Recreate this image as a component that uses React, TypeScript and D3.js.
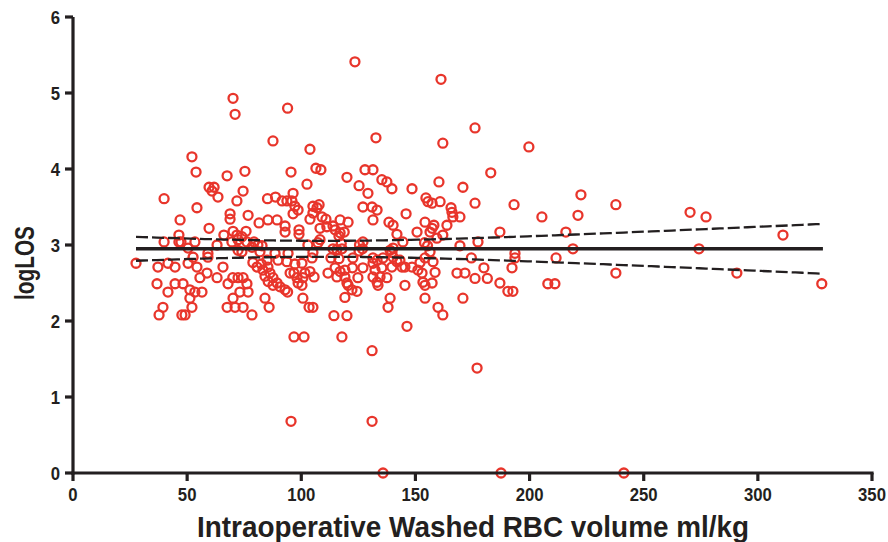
import React from "react";
import * as d3 from "d3";

// Intraoperative washed RBC volume (ml/kg) vs logLOS, one pair per patient
const patients: [number, number][] = [
  [27.6, 2.76], [37.2, 2.71], [39.9, 3.61], [39.9, 3.04], [36.8, 2.49], [39.4, 2.18], [37.7, 2.08],
  [41.6, 2.76], [41.6, 2.38], [44.7, 2.71], [44.7, 2.49], [46.9, 3.33], [46.4, 3.13], [46.4, 3.04],
  [47.3, 3.04], [48.2, 2.49], [47.7, 2.08], [49.1, 2.08], [50.4, 2.96], [50.4, 2.76], [52.6, 2.84],
  [51.2, 2.41], [51.2, 2.30], [52.1, 2.18], [53.4, 2.38], [53.4, 3.04], [54.3, 2.71], [54.3, 3.49],
  [55.6, 2.57], [56.5, 2.38], [52.1, 4.16], [53.9, 3.96],
  [59.6, 3.76], [61.8, 3.76], [60.9, 3.71], [63.5, 3.63], [59.6, 3.22], [59.1, 2.89], [59.1, 2.84],
  [58.7, 2.63], [63.1, 3.0], [63.1, 2.57], [65.7, 2.71], [66.1, 3.13], [67.5, 3.91], [67.9, 2.49],
  [67.5, 2.18], [68.8, 3.41], [68.8, 3.34], [69.6, 3.04], [70.1, 3.18], [70.1, 2.30], [70.1, 4.93],
  [71.0, 4.72], [71.8, 3.58], [71.8, 3.13], [70.0, 2.57], [72.3, 2.57], [74.5, 2.57], [71.0, 2.18],
  [72.3, 3.07], [72.3, 2.93], [73.1, 2.38], [74.0, 3.11], [74.0, 2.91], [74.5, 3.71], [74.5, 2.18],
  [75.3, 3.97], [75.8, 3.18],
  [76.2, 3.04], [78.4, 2.97], [79.3, 3.04], [81.0, 3.0], [82.8, 2.99], [81.9, 2.91], [76.7, 3.39],
  [81.5, 3.29], [85.4, 3.33], [89.4, 3.33], [92.9, 3.25], [92.9, 3.17], [85.2, 3.61], [88.7, 3.63],
  [91.6, 3.58], [93.7, 3.58], [95.9, 3.58], [96.4, 3.68], [97.2, 3.51], [96.4, 3.41], [98.6, 3.46],
  [87.6, 4.37], [94.0, 4.80], [95.5, 3.96], [99.0, 3.20], [99.0, 3.14], [78.8, 2.77], [80.6, 2.71],
  [82.5, 2.75], [83.2, 2.67], [85.0, 2.80], [85.4, 2.71], [86.3, 2.63], [84.1, 2.59], [87.6, 2.57],
  [85.5, 2.52], [87.6, 2.47], [89.4, 2.50], [90.7, 2.45], [92.9, 2.41], [94.0, 2.38], [88.5, 2.89],
  [94.2, 2.89], [89.8, 2.80], [93.7, 2.78], [97.2, 2.75], [100.3, 2.76], [95.1, 2.63], [96.8, 2.63],
  [98.1, 2.57], [98.6, 2.50], [100.3, 2.47], [100.7, 2.30], [84.1, 2.30], [85.9, 2.18], [76.2, 2.49],
  [76.7, 2.38], [78.4, 2.08], [96.8, 1.79], [95.5, 0.68],
  [101.2, 1.79], [117.8, 1.79], [102.5, 3.80], [103.8, 4.26], [106.4, 4.01], [108.6, 3.99],
  [105.1, 3.51], [106.9, 3.49], [107.8, 3.53], [105.1, 3.42], [103.8, 3.34], [109.1, 3.37],
  [110.8, 3.34], [108.2, 3.22], [111.2, 3.24], [113.9, 3.25], [114.8, 3.20], [117.0, 3.16],
  [118.8, 3.17], [116.5, 3.12], [117.0, 3.33], [120.5, 3.30], [120.0, 3.89], [102.9, 3.0],
  [107.3, 3.03], [108.2, 3.07], [105.1, 2.90], [104.7, 2.83], [101.6, 2.63], [103.8, 2.65],
  [105.6, 2.58], [100.7, 2.57], [103.4, 2.18], [105.1, 2.18], [113.9, 2.95], [115.6, 2.94],
  [117.8, 2.95], [117.5, 3.02], [113.0, 2.83], [116.5, 2.82], [114.8, 2.70], [117.0, 2.65],
  [119.1, 2.67], [111.7, 2.63], [122.4, 2.70], [119.1, 2.58], [115.6, 2.58], [120.0, 2.50],
  [120.5, 2.47], [122.2, 2.41], [124.4, 2.39], [119.1, 2.31], [114.3, 2.07], [120.0, 2.07],
  [122.6, 2.83],
  [123.5, 5.41], [125.3, 3.78], [127.9, 3.99], [131.4, 3.99], [129.2, 3.68], [132.7, 4.41],
  [135.3, 3.86], [137.5, 3.83], [139.7, 3.74], [127.0, 3.50], [131.0, 3.50], [133.2, 3.46],
  [131.4, 3.33], [138.4, 3.30], [140.2, 3.26], [141.9, 3.14], [144.5, 3.04], [145.9, 3.41],
  [127.0, 3.04], [125.5, 3.0], [125.3, 2.92], [126.8, 2.95], [124.8, 2.57], [127.0, 2.70],
  [131.4, 2.83], [131.4, 2.76], [133.2, 2.80], [135.8, 2.83], [135.3, 2.70], [132.3, 2.67],
  [131.4, 2.58], [133.2, 2.51], [133.6, 2.47], [137.5, 2.57], [134.5, 2.58], [139.7, 2.71],
  [138.9, 2.93], [139.7, 2.90], [140.2, 2.96], [140.2, 2.84], [141.9, 2.78], [143.2, 2.80],
  [144.1, 2.71], [138.9, 2.30], [138.0, 2.18], [131.0, 1.61], [131.0, 0.68], [135.8, 0.0],
  [145.4, 2.71], [148.5, 2.71], [145.4, 2.47], [146.3, 1.93], [148.5, 3.74], [150.7, 3.17],
  [154.2, 3.30], [156.4, 3.17], [157.3, 3.22], [158.1, 3.26], [159.4, 3.09], [162.0, 3.13],
  [163.8, 3.26], [166.0, 3.43], [166.4, 3.37], [169.5, 3.37], [165.6, 3.49], [154.6, 3.62],
  [155.5, 3.57], [157.3, 3.55], [160.8, 3.57], [160.3, 3.83], [170.8, 3.76], [161.2, 5.18],
  [162.0, 4.34], [176.1, 4.54], [152.0, 2.77], [154.2, 2.83], [151.1, 2.67], [152.9, 2.63],
  [153.3, 2.51], [154.2, 2.47], [157.3, 2.50], [158.6, 2.64], [157.7, 2.78], [156.4, 2.91],
  [154.0, 3.03], [155.3, 2.99], [154.2, 2.30], [159.9, 2.18], [162.0, 2.08], [169.5, 2.99],
  [168.2, 2.63], [171.7, 2.63], [170.8, 2.30], [177.4, 3.04], [174.5, 2.83], [180.0, 2.70],
  [176.1, 2.56], [181.5, 2.56], [187.0, 2.50], [190.5, 2.39], [192.7, 2.39], [193.6, 2.89],
  [193.6, 2.83], [192.3, 2.70], [187.0, 3.17], [183.0, 3.95], [176.1, 3.55], [193.2, 3.53],
  [199.7, 4.29], [177.0, 1.38], [187.5, 0.0],
  [205.4, 3.37], [222.5, 3.66], [221.2, 3.39], [237.8, 3.53], [270.3, 3.43], [277.3, 3.37],
  [215.9, 3.17], [311.0, 3.13], [219.0, 2.95], [274.2, 2.95], [211.6, 2.83], [237.8, 2.63],
  [290.8, 2.63], [208.0, 2.49], [211.1, 2.49], [328.0, 2.49], [241.3, 0.0],
];

const xTicks = [0, 50, 100, 150, 200, 250, 300, 350];
const yTicks = [0, 1, 2, 3, 4, 5, 6];
const xTitle = "Intraoperative Washed RBC volume ml/kg";
const yTitle = "logLOS";

// linear fit and its 95% confidence band parameters
const fitIntercept = 2.95;
const fitSlope = 0;
const fitXRange = [27.6, 328.5];
const ciCenterX = 110;
const ciHalfAtCenter = 0.105;
const ciSpread = 0.00142;

export default function App() {
  const x = d3.scaleLinear().domain([0, 350]).range([73, 872]);
  const y = d3.scaleLinear().domain([0, 6]).range([473, 17]);
  const red = "#e8352b";
  const ink = "#231f20";

  const xs = d3.range(fitXRange[0], fitXRange[1] + 0.001, (fitXRange[1] - fitXRange[0]) / 100);
  const fit = (v: number) => fitIntercept + fitSlope * v;
  const half = (v: number) => Math.sqrt(ciHalfAtCenter ** 2 + (ciSpread * (v - ciCenterX)) ** 2);
  const line = d3.line<number[]>().x((d) => x(d[0])).y((d) => y(d[1]));
  const fitPath = line([[fitXRange[0], fit(fitXRange[0])], [fitXRange[1], fit(fitXRange[1])]]) || "";
  const upper = line(xs.map((v) => [v, fit(v) + half(v)])) || "";
  const lower = line(xs.map((v) => [v, fit(v) - half(v)])) || "";

  const font = "'Liberation Sans', Arial, sans-serif";

  return (
    <svg width={888} height={542} style={{ position: "absolute", left: 0, top: 0, background: "#fff" }}>
      {/* points */}
      <g fill="none" stroke={red} strokeWidth={2.3}>
        {patients.map((d, i) => (
          <circle key={i} cx={x(d[0])} cy={y(d[1])} r={4.5} />
        ))}
      </g>
      {/* regression */}
      <path d={fitPath} stroke={ink} strokeWidth={3.4} fill="none" />
      <path d={upper} stroke={ink} strokeWidth={2.3} fill="none" strokeDasharray="12,4" />
      <path d={lower} stroke={ink} strokeWidth={2.3} fill="none" strokeDasharray="12,4" />
      {/* axes */}
      <g stroke={ink} strokeWidth={3.2} strokeLinecap="butt">
        <line x1={x(0)} x2={x(0)} y1={y(6)} y2={y(0) + 1.6} />
        <line x1={x(0) - 1.6} x2={x(350) + 1.6} y1={y(0)} y2={y(0)} />
        {yTicks.map((t) => (
          <line key={"yt" + t} x1={x(0) - 8} x2={x(0)} y1={y(t)} y2={y(t)} />
        ))}
        {xTicks.map((t) => (
          <line key={"xt" + t} x1={x(t)} x2={x(t)} y1={y(0)} y2={y(0) + 8} />
        ))}
      </g>
      <g fill={ink} fontFamily={font} fontWeight="bold" fontSize={19}>
        {yTicks.map((t) => (
          <text key={"yl" + t} transform={`translate(${x(0) - 13},${y(t) + 7}) scale(0.88,1)`} textAnchor="end">
            {t}
          </text>
        ))}
        {xTicks.map((t) => (
          <text key={"xl" + t} transform={`translate(${x(t)},${y(0) + 28}) scale(0.88,1)`} textAnchor="middle">
            {t}
          </text>
        ))}
      </g>
      <text x={473} y={537} textAnchor="middle" fontFamily={font} fontWeight="bold" fontSize={30} fill={ink}
        textLength={552} lengthAdjust="spacingAndGlyphs">
        {xTitle}
      </text>
      <text transform="translate(34,263) rotate(-90)" textAnchor="middle" fontFamily={font} fontWeight="bold"
        fontSize={28} fill={ink} textLength={74} lengthAdjust="spacingAndGlyphs">
        {yTitle}
      </text>
    </svg>
  );
}
